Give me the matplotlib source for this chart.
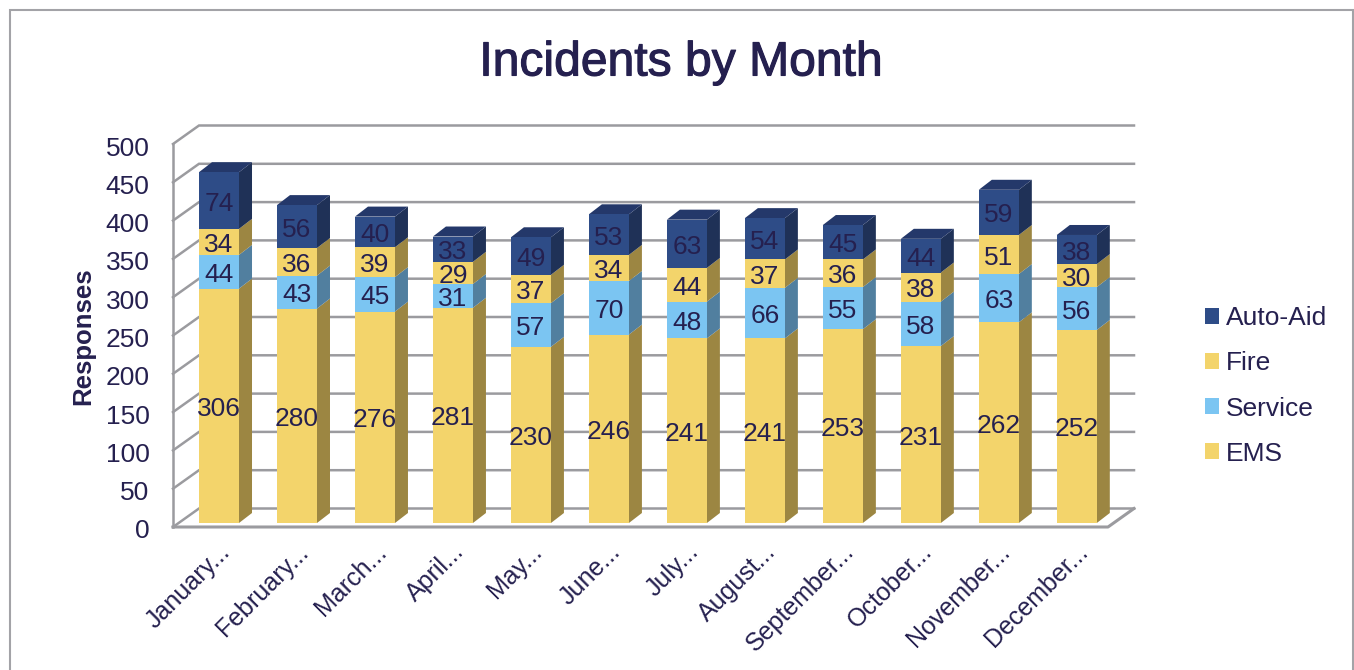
import matplotlib
matplotlib.use("Agg")
import matplotlib.pyplot as plt
import matplotlib.patheffects as pe
from matplotlib.patches import Polygon, Rectangle
from matplotlib.transforms import ScaledTranslation

months = ["January...", "February...", "March...", "April...", "May...", "June...",
          "July...", "August...", "September...", "October...", "November...", "December..."]
ems = [306, 280, 276, 281, 230, 246, 241, 241, 253, 231, 262, 252]
service = [44, 43, 45, 31, 57, 70, 48, 66, 55, 58, 63, 56]
fire = [34, 36, 39, 29, 37, 34, 44, 37, 36, 38, 51, 30]
auto_aid = [74, 56, 40, 33, 49, 53, 63, 54, 45, 44, 59, 38]
yticks = [0, 50, 100, 150, 200, 250, 300, 350, 400, 450, 500]

series = [("EMS", ems, "#f3d46b", "#9c8642"),
          ("Service", service, "#7bc5f2", "#517f9f"),
          ("Fire", fire, "#f3d46b", "#9c8642"),
          ("Auto-Aid", auto_aid, "#2e4c87", "#1f3157")]

INK = "#25204f"
GRID = "#9b9b9f"
W, H = 1354, 670
plt.rcParams["font.family"] = ["Liberation Sans", "DejaVu Sans"]

fig = plt.figure(figsize=(W/100, H/100), dpi=100)
fig.patch.set_facecolor("white")
# marco del grafico
fig.add_artist(Rectangle((10/W, -0.02), 1343/W, 1.02 - 10/H, transform=fig.transFigure,
                         fill=False, ec="#a3a3a7", lw=1.5))

# ejes: plano frontal del suelo, 173..1108 px en x, 527..144 px en y
ax = fig.add_axes([173/W, 1 - 527/H, 935/W, 383/H])
ax.set_xlim(-0.59, 11.40)
ax.set_ylim(0, 500)
ax.patch.set_alpha(0)
for s in ax.spines.values():
    s.set_visible(False)

# profundidad del "3D" en unidades de datos
px_x = 11.99/935
px_y = 500/383
wall_dx, wall_dy = 26*px_x, 18.5*px_y
bar_dx, bar_dy = 13*px_x, 10*px_y
bar_w = 40*px_x
lift = 4*px_y

x0, x1 = ax.get_xlim()
for v in yticks:
    ax.plot([x0, x0 + wall_dx, x1 + wall_dx], [v, v + wall_dy, v + wall_dy],
            color=GRID, lw=1.8, zorder=1, clip_on=False, solid_joinstyle="miter")
ax.plot([x0, x0], [0, 500], color=GRID, lw=1.8, zorder=1.5, clip_on=False)
ax.plot([x0, x1, x1 + wall_dx], [0, 0, wall_dy], color=GRID, lw=2.2, zorder=1.5, clip_on=False)

pos = list(range(len(months)))
bottoms = [lift]*len(months)
handles = {}
for name, vals, col, side in series:
    bars = ax.bar(pos, vals, bar_w, bottom=bottoms, color=col, zorder=3, clip_on=False, label=name)
    handles[name] = bars
    for i, v in enumerate(vals):
        xr = i + bar_w/2
        b = bottoms[i]
        ax.add_patch(Polygon([(xr, b), (xr + bar_dx, b + bar_dy),
                              (xr + bar_dx, b + v + bar_dy), (xr, b + v)],
                             fc=side, ec="none", zorder=2.5, clip_on=False))
        # etiqueta un poco por debajo del centro del tramo, como en el original
        ax.text(i, b + v/2 - 3*px_y, str(v), ha="center", va="center", fontsize=19, color=INK,
                zorder=5, clip_on=False)
    bottoms = [b + v for b, v in zip(bottoms, vals)]

# tapa superior de cada columna
for i, top in enumerate(bottoms):
    xl, xr = i - bar_w/2, i + bar_w/2
    ax.add_patch(Polygon([(xl, top), (xl + bar_dx, top + bar_dy), (xr + bar_dx, top + bar_dy), (xr, top)],
                         fc="#24386a", ec="none", zorder=2.6, clip_on=False))

ax.set_yticks(yticks)
ax.tick_params(axis="y", length=0, pad=17, labelsize=19, labelcolor=INK)
down = ScaledTranslation(0, -2/100, fig.dpi_scale_trans)
for lab in ax.get_yticklabels():
    lab.set_transform(lab.get_transform() + down)

ax.set_xticks(pos)
ax.set_xticklabels(months, rotation=45, ha="right", va="top", rotation_mode="anchor",
                   fontsize=18, color=INK)
ax.tick_params(axis="x", length=0, pad=9)
shift = ScaledTranslation(-1/100, 0, fig.dpi_scale_trans)
for lab in ax.get_xticklabels():
    lab.set_transform(lab.get_transform() + shift)

fig.text(83/W, 1 - 336/H, "Responses", rotation=90, ha="center", va="center",
         fontsize=18.5, fontweight="bold", color=INK)
fig.text(681/W, 1 - 63/H, "Incidents by Month", ha="center", va="center", fontsize=34.6, color=INK,
         path_effects=[pe.withStroke(linewidth=0.8, foreground=INK)])

order = ["Auto-Aid", "Fire", "Service", "EMS"]
fig.legend([handles[n] for n in order], order, loc="center left",
           bbox_to_anchor=(1181/W, 1 - 386/H), frameon=False, fontsize=19, labelcolor=INK,
           handlelength=0.55, handleheight=0.55, handletextpad=0.25, labelspacing=0.80)

fig.savefig("out.png", dpi=100)
